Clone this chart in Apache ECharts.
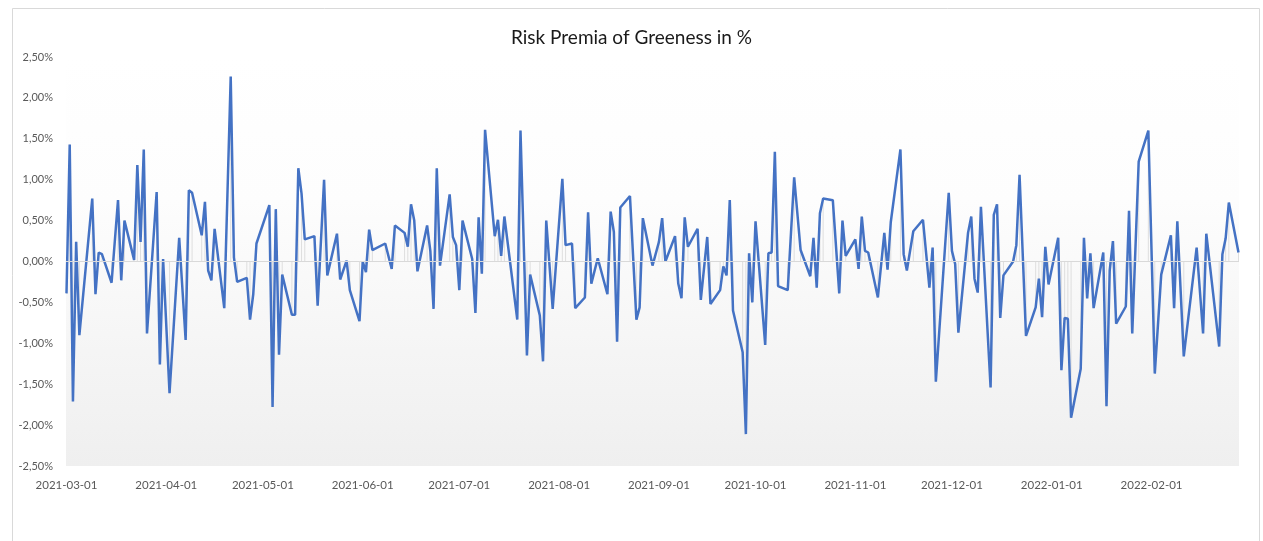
<!DOCTYPE html>
<html>
<head>
<meta charset="utf-8">
<title>Risk Premia of Greeness</title>
<script src="https://cdn.jsdelivr.net/npm/echarts@6/dist/echarts.min.js"></script>
<style>
    html, body { margin: 0; padding: 0; background: #fff; }
    #chartOne { width: 1263px; height: 541px; }
</style>
</head>
<body>
<div id="chartOne"></div>
<script>
// daily risk premia (in %)
var dates = [
    '2021-03-01','2021-03-02','2021-03-03','2021-03-04','2021-03-05','2021-03-09','2021-03-10','2021-03-11','2021-03-12','2021-03-15','2021-03-17','2021-03-18','2021-03-19','2021-03-22','2021-03-23','2021-03-24','2021-03-25','2021-03-26','2021-03-29','2021-03-30','2021-03-31',
    '2021-04-02','2021-04-05','2021-04-07','2021-04-08','2021-04-09','2021-04-12','2021-04-13','2021-04-14','2021-04-15','2021-04-16','2021-04-19','2021-04-21','2021-04-22','2021-04-23','2021-04-26','2021-04-27','2021-04-28','2021-04-29',
    '2021-05-03','2021-05-04','2021-05-05','2021-05-06','2021-05-07','2021-05-10','2021-05-11','2021-05-12','2021-05-13','2021-05-14','2021-05-17','2021-05-18','2021-05-20','2021-05-21','2021-05-24','2021-05-25','2021-05-27','2021-05-28','2021-05-31',
    '2021-06-01','2021-06-02','2021-06-03','2021-06-04','2021-06-08','2021-06-10','2021-06-11','2021-06-14','2021-06-15','2021-06-16','2021-06-17','2021-06-18','2021-06-21','2021-06-22','2021-06-23','2021-06-24','2021-06-25','2021-06-28','2021-06-29','2021-06-30',
    '2021-07-01','2021-07-02','2021-07-05','2021-07-06','2021-07-07','2021-07-08','2021-07-09','2021-07-12','2021-07-13','2021-07-14','2021-07-15','2021-07-19','2021-07-20','2021-07-22','2021-07-23','2021-07-26','2021-07-27','2021-07-28','2021-07-30',
    '2021-08-02','2021-08-03','2021-08-05','2021-08-06','2021-08-09','2021-08-10','2021-08-11','2021-08-13','2021-08-16','2021-08-17','2021-08-18','2021-08-19','2021-08-20','2021-08-23','2021-08-25','2021-08-26','2021-08-27','2021-08-30',
    '2021-09-01','2021-09-02','2021-09-03','2021-09-06','2021-09-07','2021-09-08','2021-09-09','2021-09-10','2021-09-13','2021-09-14','2021-09-16','2021-09-17','2021-09-20','2021-09-21','2021-09-22','2021-09-23','2021-09-24','2021-09-27','2021-09-28','2021-09-29','2021-09-30',
    '2021-10-01','2021-10-04','2021-10-05','2021-10-06','2021-10-07','2021-10-08','2021-10-11','2021-10-13','2021-10-15','2021-10-18','2021-10-19','2021-10-20','2021-10-21','2021-10-22','2021-10-25','2021-10-27','2021-10-28','2021-10-29',
    '2021-11-01','2021-11-02','2021-11-03','2021-11-04','2021-11-05','2021-11-08','2021-11-10','2021-11-11','2021-11-12','2021-11-15','2021-11-16','2021-11-17','2021-11-19','2021-11-22','2021-11-24','2021-11-25','2021-11-26','2021-11-30',
    '2021-12-01','2021-12-02','2021-12-03','2021-12-06','2021-12-07','2021-12-08','2021-12-09','2021-12-10','2021-12-13','2021-12-14','2021-12-15','2021-12-16','2021-12-17','2021-12-20','2021-12-21','2021-12-22','2021-12-24','2021-12-27','2021-12-28','2021-12-29','2021-12-30','2021-12-31',
    '2022-01-03','2022-01-04','2022-01-05','2022-01-06','2022-01-07','2022-01-10','2022-01-11','2022-01-12','2022-01-13','2022-01-14','2022-01-17','2022-01-18','2022-01-19','2022-01-20','2022-01-21','2022-01-24','2022-01-25','2022-01-26','2022-01-28','2022-01-31',
    '2022-02-02','2022-02-04','2022-02-07','2022-02-08','2022-02-09','2022-02-11','2022-02-15','2022-02-17','2022-02-18','2022-02-22','2022-02-23','2022-02-24','2022-02-25','2022-02-28'
];
var premia = [
    -0.39,1.43,-1.71,0.24,-0.90,0.77,-0.40,0.11,0.09,-0.26,0.75,-0.23,0.50,0.02,1.18,0.24,1.37,-0.88,0.85,-1.26,0.03,
    -1.61,0.29,-0.96,0.87,0.84,0.32,0.73,-0.11,-0.23,0.40,-0.57,2.26,0.05,-0.25,-0.20,-0.71,-0.40,0.22,
    0.69,-1.78,0.64,-1.14,-0.16,-0.65,-0.65,1.14,0.83,0.27,0.31,-0.54,1.00,-0.17,0.34,-0.22,0.01,-0.35,-0.73,
    0.00,-0.13,0.39,0.14,0.22,-0.09,0.44,0.35,0.18,0.70,0.50,-0.12,0.44,0.13,-0.58,1.14,-0.05,0.82,0.30,0.20,
    -0.35,0.50,0.03,-0.63,0.54,-0.15,1.61,0.31,0.51,0.07,0.55,-0.71,1.60,-1.15,-0.16,-0.66,-1.22,0.50,-0.58,
    1.01,0.20,0.22,-0.57,-0.44,0.60,-0.27,0.04,-0.40,0.61,0.36,-0.98,0.66,0.80,-0.71,-0.56,0.53,-0.05,
    0.24,0.53,0.00,0.31,-0.27,-0.45,0.54,0.18,0.40,-0.47,0.30,-0.52,-0.35,-0.06,-0.17,0.75,-0.60,-1.11,-2.11,0.10,-0.50,
    0.49,-1.02,0.10,0.11,1.34,-0.30,-0.35,1.03,0.14,-0.18,0.29,-0.32,0.59,0.77,0.75,-0.39,0.50,0.07,
    0.27,-0.09,0.55,0.13,0.11,-0.44,0.35,-0.10,0.48,1.37,0.09,-0.11,0.37,0.51,-0.32,0.17,-1.47,0.84,
    0.13,-0.03,-0.87,0.35,0.55,-0.21,-0.38,0.67,-1.54,0.57,0.70,-0.69,-0.17,0.00,0.20,1.06,-0.91,-0.56,-0.21,-0.68,0.18,-0.28,
    0.29,-1.33,-0.69,-0.70,-1.91,-1.31,0.29,-0.45,0.10,-0.57,0.11,-1.77,-0.11,0.25,-0.76,-0.55,0.62,-0.88,1.22,1.60,
    -1.37,-0.16,0.32,-0.57,0.49,-1.16,0.17,-0.88,0.34,-1.04,0.09,0.28,0.72,0.11
];
var xStart = '2021-03-01', xEnd = '2022-02-28';
var yMin = -2.5, yMax = 2.5, yStep = 0.5;

var points = dates.map(function (d, i) { return [d, premia[i]]; });
var labelFont = 'Lato, "Open Sans", sans-serif';
var DAY = 24 * 3600 * 1000;

var option = {
    backgroundColor: '#ffffff',
    animation: false,
    title: {
        text: 'Risk Premia of Greeness in %',
        left: 'center',
        top: 23,
        textStyle: { fontFamily: labelFont, fontSize: 19, fontWeight: 'normal', color: '#1a1a1a' }
    },
    graphic: [{
        type: 'rect',
        shape: { x: 12.5, y: 8.5, width: 1247, height: 560 },
        style: { fill: null, stroke: '#d9d9d9', lineWidth: 1 },
        silent: true
    }],
    grid: {
        left: 66, right: 24, top: 57, bottom: 75,
        show: true,
        borderWidth: 0,
        backgroundColor: {
            type: 'linear', x: 0, y: 0, x2: 0, y2: 1,
            colorStops: [
                { offset: 0, color: '#ffffff' },
                { offset: 0.35, color: '#fdfdfd' },
                { offset: 1, color: '#efefef' }
            ]
        }
    },
    xAxis: {
        type: 'time',
        min: xStart,
        max: xEnd,
        minInterval: 28 * DAY,
        maxInterval: 31 * DAY,
        axisLine: { show: false },
        axisTick: { show: false },
        splitLine: { show: false },
        axisLabel: {
            margin: 13,
            color: '#595959',
            fontFamily: labelFont,
            fontSize: 11.5,
            hideOverlap: false,
            formatter: function (v) { return echarts.time.format(v, '{yyyy}-{MM}-{dd}', false); }
        }
    },
    yAxis: {
        type: 'value',
        min: yMin,
        max: yMax,
        interval: yStep,
        axisLine: { show: false },
        axisTick: { show: false },
        splitLine: { show: false },
        axisLabel: {
            margin: 13,
            color: '#595959',
            fontFamily: labelFont,
            fontSize: 11,
            formatter: function (v) { return v.toFixed(2).replace('.', ',') + '%'; }
        }
    },
    series: [
        {
            name: 'drop',
            type: 'bar',
            data: points,
            barWidth: 1,
            silent: true,
            itemStyle: { color: '#dedede' },
            z: 1
        },
        {
            name: 'Risk Premia',
            type: 'line',
            data: points,
            showSymbol: false,
            lineStyle: { color: '#4472C4', width: 2.5 },
            itemStyle: { color: '#4472C4' },
            z: 3,
            markLine: {
                silent: true,
                symbol: 'none',
                label: { show: false },
                lineStyle: { color: '#d9d9d9', width: 1, type: 'solid' },
                data: [{ yAxis: 0 }]
            }
        }
    ]
};
var chartOne = echarts.init(document.getElementById('chartOne'));
chartOne.setOption(option, true);
</script>
</body>
</html>
